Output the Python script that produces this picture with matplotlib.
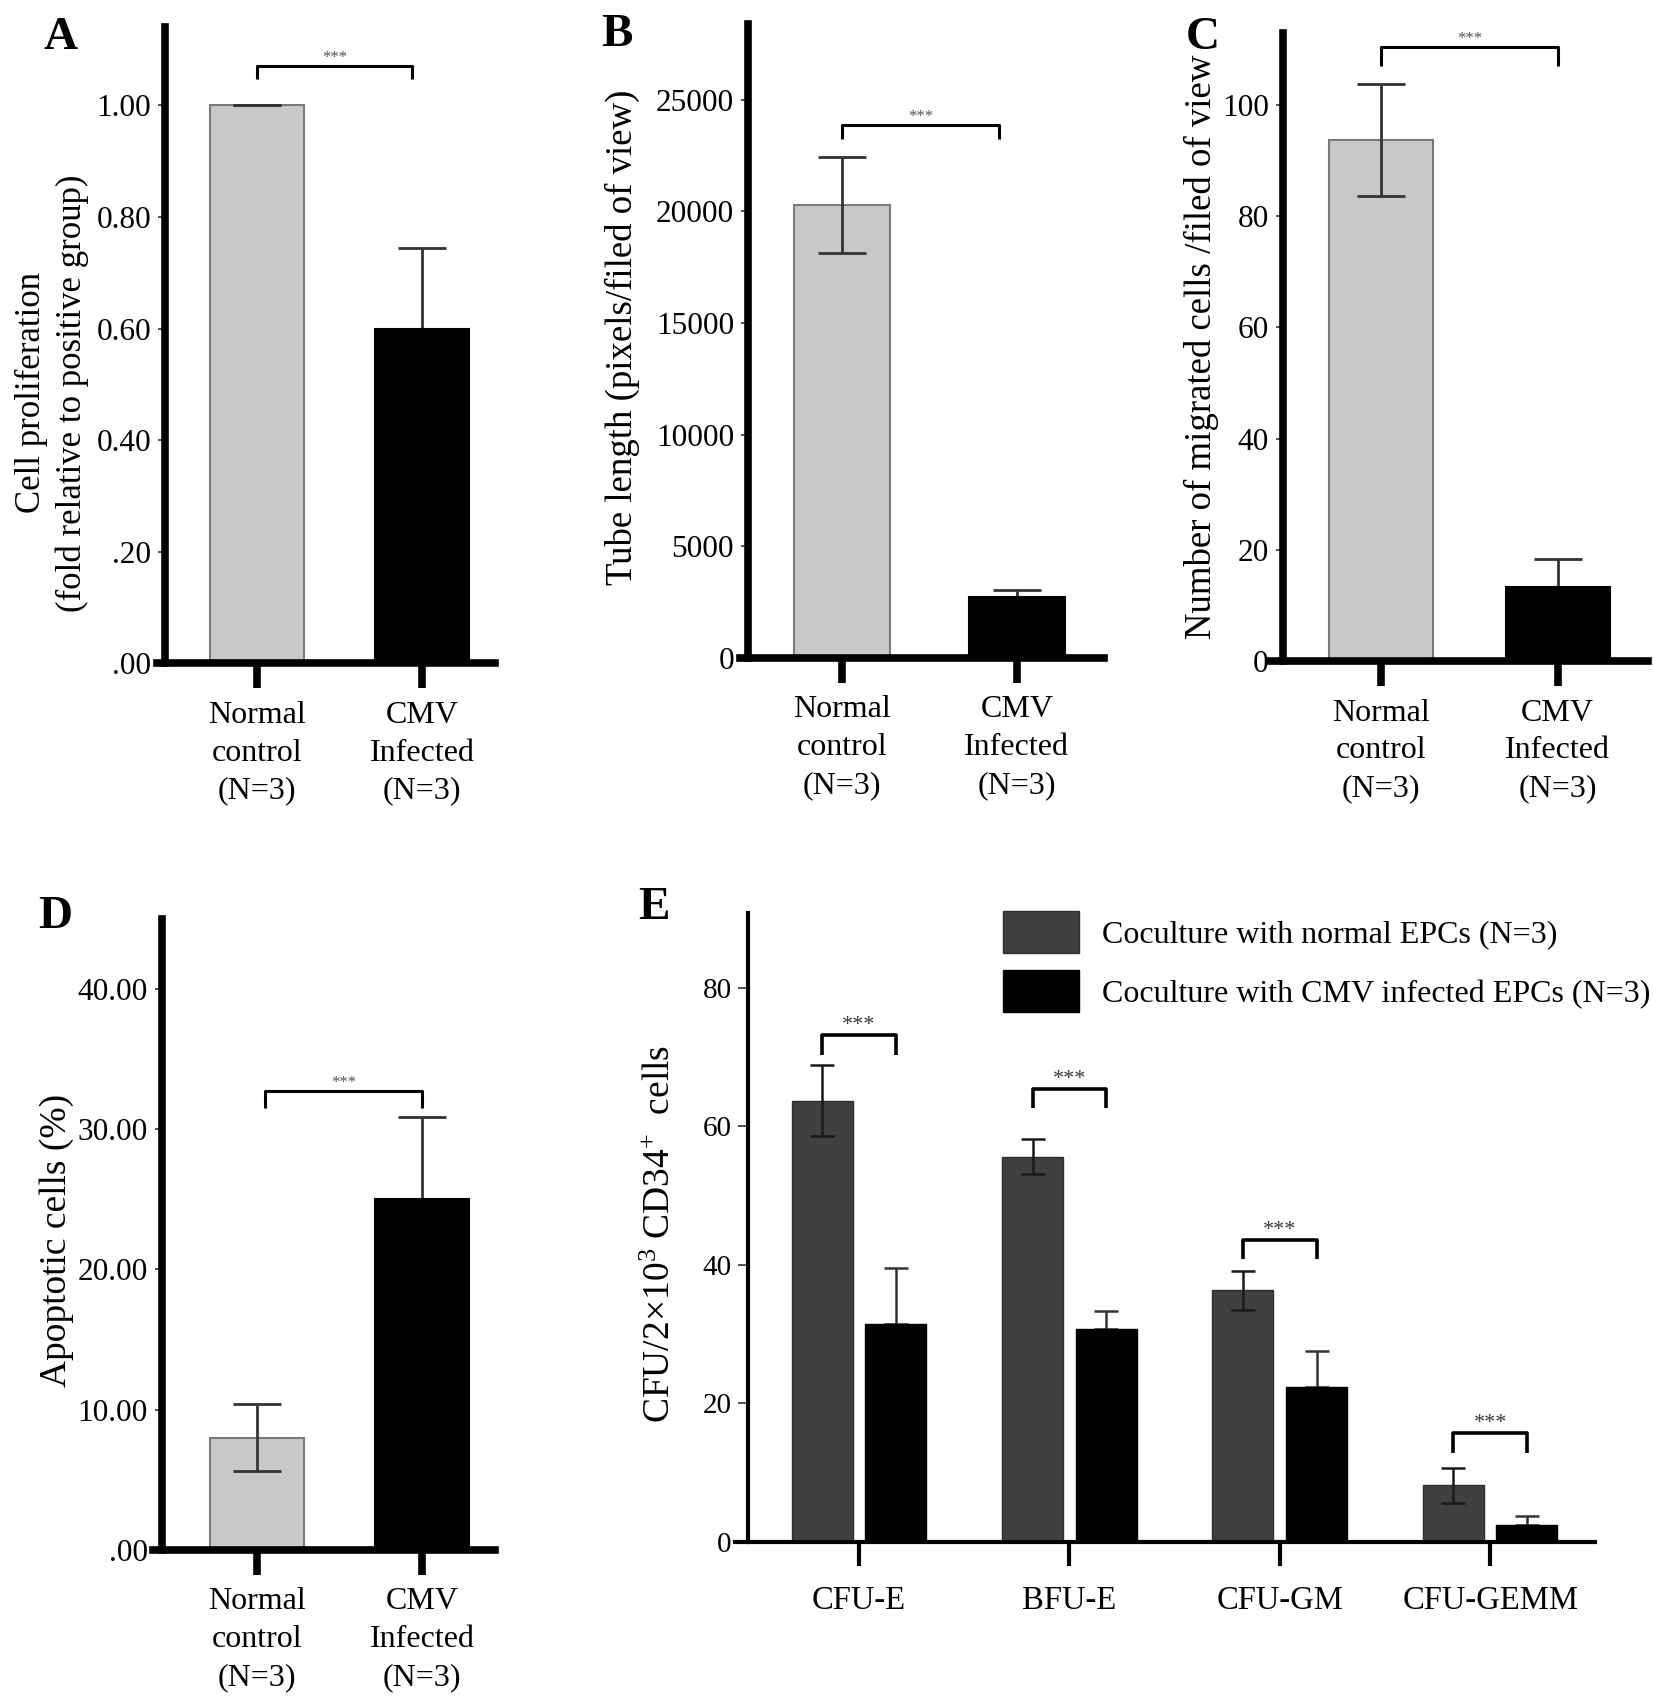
import matplotlib
matplotlib.use("Agg")
import matplotlib.pyplot as plt
import numpy as np

plt.rcParams['font.family'] = ['Liberation Serif', 'DejaVu Serif']
plt.rcParams['mathtext.fontset'] = 'custom'
plt.rcParams['mathtext.rm'] = 'Liberation Serif'
plt.rcParams['mathtext.it'] = 'Liberation Serif:italic'

# ---------------- data ----------------
groups = ['Normal\ncontrol\n(N=3)', 'CMV\nInfected\n(N=3)']

prolif_mean = [1.00, 0.60]
prolif_err = [0.0, 0.145]
prolif_ticks = [0.0, 0.2, 0.4, 0.6, 0.8, 1.0]
prolif_ticklabels = ['.00', '.20', '0.40', '0.60', '0.80', '1.00']

tube_mean = [20300, 2750]
tube_err = [2150, 300]
tube_ticks = [0, 5000, 10000, 15000, 20000, 25000]

migr_mean = [93.7, 13.3]
migr_err = [10.1, 5.0]
migr_ticks = [0, 20, 40, 60, 80, 100]

apop_mean = [8.0, 25.0]
apop_err = [2.4, 5.9]
apop_ticks = [0, 10, 20, 30, 40]
apop_ticklabels = ['.00', '10.00', '20.00', '30.00', '40.00']

cfu_cats = ['CFU-E', 'BFU-E', 'CFU-GM', 'CFU-GEMM']
cfu_normal = [63.7, 55.6, 36.3, 8.2]
cfu_normal_err = [5.1, 2.5, 2.8, 2.5]
cfu_cmv = [31.5, 30.8, 22.4, 2.4]
cfu_cmv_err = [8.0, 2.5, 5.1, 1.4]
cfu_ticks = [0, 20, 40, 60, 80]
cfu_sig = [73.1, 65.4, 43.6, 15.7]
legend_labels = ['Coculture with normal EPCs (N=3)',
                 'Coculture with CMV infected EPCs (N=3)']

# ---------------- figure ----------------
W, H = 1520.0, 1566.0
fig = plt.figure(figsize=(16.53, 17.03), dpi=100)

def rect(l, r, t, b):
    return [l / W, 1 - b / H, (r - l) / W, (b - t) / H]

LIGHT = '#c8c8c8'
LIGHT_EDGE = '#7a7a7a'
DARK = '#404040'
BLACK = '#000000'
ERRC = '#333333'
FS = 22.5
XFS = 23


def style_axes(ax, spine_w=5.5, xtick_len=18, inset_pt=6.0):
    for s in ['top', 'right']:
        ax.spines[s].set_visible(False)
    ax.spines['left'].set_linewidth(spine_w)
    ax.spines['bottom'].set_linewidth(spine_w)
    # x axis line starts a little to the left of the y axis line
    ax.spines['left'].set_position(('outward', -inset_pt))
    ax.tick_params(axis='x', direction='out', length=xtick_len, width=spine_w,
                   labelsize=XFS, pad=9)
    ax.tick_params(axis='y', direction='out', length=5, width=1.2,
                   labelsize=FS, pad=5, color='#333333')


def sig(ax, x1, x2, y, tip, fs=12, lw=2.2, color='#555555'):
    ax.plot([x1, x1, x2, x2], [y - tip, y, y, y - tip], color='black', lw=lw,
            solid_capstyle='butt', clip_on=False)
    ax.text((x1 + x2) / 2, y, '***', ha='center', va='bottom', fontsize=fs,
            color=color)


def two_bar(ax, means, errs, width, capsize):
    x = np.arange(len(means))
    ax.bar(x, means, width=width, color=[LIGHT, BLACK],
           edgecolor=[LIGHT_EDGE, BLACK], linewidth=1.5, zorder=2)
    # normal group: symmetric error drawn over the bar
    ax.errorbar(x[:1], means[:1], yerr=errs[:1], fmt='none', ecolor=ERRC,
                elinewidth=2, capsize=capsize, capthick=2, zorder=3)
    # infected group: upper error only (drawn behind the bar)
    ax.errorbar(x[1:], means[1:], yerr=[[0], errs[1:]], fmt='none',
                ecolor=ERRC, elinewidth=2, capsize=capsize, capthick=2,
                zorder=1)
    ax.set_xticks(x)
    ax.set_xticklabels(groups, linespacing=1.4)
    return x

# ---------------- A ----------------
axA = fig.add_axes(rect(144, 455, 25, 610))
two_bar(axA, prolif_mean, prolif_err, 0.57, 17)
axA.set_xlim(-0.605, 1.44)
axA.set_ylim(0, 1.14)
axA.set_yticks(prolif_ticks)
axA.set_yticklabels(prolif_ticklabels)
style_axes(axA)
axA.set_ylabel('Cell proliferation\n(fold relative to positive group)',
               fontsize=25, linespacing=1.3)
axA.yaxis.set_label_coords(-0.2, 0.425)
sig(axA, 0, 0.94, 1.07, 0.023)

# ---------------- B ----------------
axB = fig.add_axes(rect(680, 1015, 22, 605))
two_bar(axB, tube_mean, tube_err, 0.55, 17)
axB.set_xlim(-0.584, 1.497)
axB.set_ylim(0, 28400)
axB.set_yticks(tube_ticks)
style_axes(axB)
axB.set_ylabel('Tube length (pixels/filed of view)', fontsize=26.5)
axB.yaxis.set_label_coords(-0.273, 0.505)
sig(axB, 0, 0.9, 23880, 630)

# ---------------- C ----------------
axC = fig.add_axes(rect(1168, 1515, 30, 608))
two_bar(axC, migr_mean, migr_err, 0.59, 17)
axC.set_xlim(-0.63, 1.51)
axC.set_ylim(0, 113)
axC.set_yticks(migr_ticks)
style_axes(axC, inset_pt=9.0)
axC.set_ylabel('Number of migrated cells /filed of view', fontsize=26.5)
axC.yaxis.set_label_coords(-0.135, 0.5)
sig(axC, 0, 1.0, 110.4, 3.4)

# ---------------- D ----------------
axD = fig.add_axes(rect(141, 455, 845, 1425))
two_bar(axD, apop_mean, apop_err, 0.57, 17)
axD.set_xlim(-0.625, 1.44)
axD.set_ylim(0, 45)
axD.set_yticks(apop_ticks)
axD.set_yticklabels(apop_ticklabels)
style_axes(axD)
axD.set_ylabel('Apoptotic cells (%)', fontsize=27)
axD.yaxis.set_label_coords(-0.232, 0.49)
sig(axD, 0.05, 1.0, 32.7, 1.2)

# ---------------- E ----------------
axE = fig.add_axes(rect(676, 1467, 840, 1418))
xe = np.arange(len(cfu_cats))
off, bw = 0.175, 0.29
axE.bar(xe - off, cfu_normal, width=bw, color=DARK, edgecolor='#2e2e2e',
        linewidth=1.0, zorder=2, label=legend_labels[0])
axE.bar(xe + off, cfu_cmv, width=bw, color=BLACK, edgecolor=BLACK,
        linewidth=1.0, zorder=2, label=legend_labels[1])
axE.errorbar(xe - off, cfu_normal, yerr=cfu_normal_err, fmt='none',
             ecolor='#1a1a1a', elinewidth=1.8, capsize=8.5, capthick=1.8,
             zorder=3)
axE.errorbar(xe + off, cfu_cmv, yerr=[[0] * len(cfu_cmv), cfu_cmv_err],
             fmt='none', ecolor='#333333', elinewidth=1.8, capsize=8.5,
             capthick=1.8, zorder=1)
axE.set_xlim(-0.589, 3.5)
axE.set_ylim(0, 90.7)
axE.set_yticks(cfu_ticks)
axE.set_xticks(xe)
axE.set_xticklabels(cfu_cats)
style_axes(axE, spine_w=3.0, xtick_len=17, inset_pt=9.4)
axE.tick_params(axis='x', pad=14, labelsize=23.5)
axE.tick_params(axis='y', labelsize=21, length=7, pad=5)
axE.set_ylabel('CFU/2×10$^{3}$ CD34$^{+}$  cells', fontsize=27)
axE.yaxis.set_label_coords(-0.066, 0.49)
for i, yv in enumerate(cfu_sig):
    sig(axE, xe[i] - off, xe[i] + off, yv, 2.8, fs=16, lw=2.6,
        color='#3a3a3a')
axE.legend(loc='upper left', bbox_to_anchor=(904.5 / W, 1 - 819.8 / H),
           bbox_transform=fig.transFigure, frameon=False,
           fontsize=23, handlelength=2.4, handleheight=1.65,
           handletextpad=0.7, labelspacing=0.55, borderpad=0.1)

# ---------------- panel letters ----------------
for lab, xx, yy in [('A', 40, 45), ('B', 553, 42), ('C', 1090, 45),
                    ('D', 35, 853), ('E', 587, 845)]:
    fig.text(xx / W, 1 - yy / H, lab, fontsize=34, fontweight='bold',
             ha='left', va='baseline')

fig.savefig('out.png', dpi=100, facecolor='white')
